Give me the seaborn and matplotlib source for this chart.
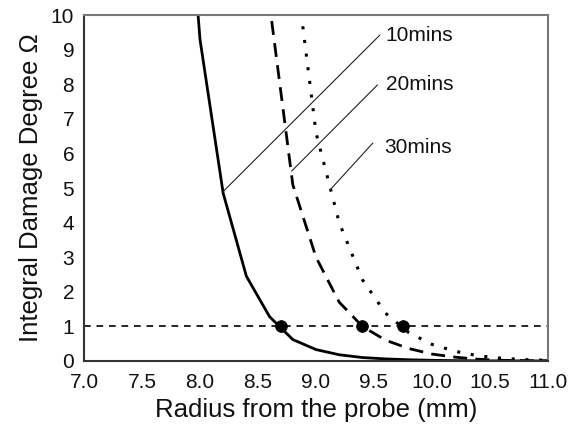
import numpy as np
import pandas as pd
import matplotlib
matplotlib.use("Agg")
import matplotlib.pyplot as plt
import seaborn as sns
from matplotlib.ticker import MultipleLocator, FormatStrFormatter

# ---- data ----
r10 = [7.8, 8.0, 8.2, 8.4, 8.6, 8.8, 9.0, 9.2, 9.4, 9.6, 9.8, 10.0, 10.2, 10.4, 10.6, 10.8, 11.0]
d10 = [18.0, 9.3, 4.85, 2.45, 1.28, 0.62, 0.33, 0.18, 0.10, 0.06, 0.035, 0.02, 0.01, 0.005, 0.003, 0.002, 0.001]

r20 = [8.4, 8.6, 8.8, 9.0, 9.2, 9.4, 9.6, 9.8, 10.0, 10.2, 10.4, 10.6, 10.8, 11.0]
d20 = [20.0, 10.3, 5.1, 3.0, 1.7, 1.0, 0.6, 0.36, 0.2, 0.11, 0.05, 0.02, 0.01, 0.005]

r30 = [8.8, 9.0, 9.2, 9.4, 9.6, 9.8, 10.0, 10.2, 10.4, 10.6, 10.8, 11.0]
d30 = [12.0, 6.6, 4.0, 2.35, 1.38, 0.82, 0.48, 0.28, 0.15, 0.08, 0.04, 0.02]

threshold_r = [8.7, 9.4, 9.75]
threshold_d = [1.0, 1.0, 1.0]

labels = ["10mins", "20mins", "30mins"]
label_pos = [(9.60, 9.42), (9.60, 7.98), (9.59, 6.18)]
leader_start = [(8.20, 4.90), (8.79, 5.49), (9.12, 4.94)]
leader_end = [(9.55, 9.42), (9.53, 7.98), (9.49, 6.30)]

sns.set_style("white")
plt.rcParams["font.family"] = ["Liberation Sans", "DejaVu Sans"]

fig = plt.figure(figsize=(5.79, 4.30), dpi=100)
ax = fig.add_axes([0.145, 0.1605, 0.8015, 0.8045])

df10 = pd.DataFrame({"r": r10, "d": d10})
df20 = pd.DataFrame({"r": r20, "d": d20})
df30 = pd.DataFrame({"r": r30, "d": d30})

sns.lineplot(data=df10, x="r", y="d", ax=ax, color="black", lw=2.0,
             estimator=None, sort=False)
l20 = sns.lineplot(data=df20, x="r", y="d", ax=ax, color="black", lw=2.0,
                   estimator=None, sort=False).lines[-1]
l20.set_dashes([5, 3])
l30 = sns.lineplot(data=df30, x="r", y="d", ax=ax, color="black", lw=2.2,
                   estimator=None, sort=False).lines[-1]
l30.set_dashes([1, 3.5])

ax.axhline(1.0, color="black", lw=1.2, dashes=(4, 3.5))

sns.scatterplot(x=threshold_r, y=threshold_d, ax=ax, color="black", s=70,
                edgecolor="black", zorder=5)

for lab, (tx, ty), (sx, sy), (ex, ey) in zip(labels, label_pos, leader_start, leader_end):
    ax.plot([sx, ex], [sy, ey], color="#222222", lw=0.8)
    ax.text(tx, ty, lab, fontsize=15, va="center", ha="left", color="#111111")

ax.set_xlim(7.0, 11.0)
ax.set_ylim(0, 10)
ax.xaxis.set_major_locator(MultipleLocator(0.5))
ax.xaxis.set_minor_locator(MultipleLocator(0.25))
ax.xaxis.set_major_formatter(FormatStrFormatter("%.1f"))
ax.yaxis.set_major_locator(MultipleLocator(1))

ax.tick_params(axis="x", which="both", direction="in", length=5, width=1.2,
               labelsize=15, colors="#111111", pad=9)
ax.tick_params(axis="y", which="major", direction="out", length=5, width=1.2,
               labelsize=15, colors="#111111", pad=2)
ax.tick_params(axis="x", which="minor", direction="in", length=5, width=1.2)

for side in ["left", "bottom"]:
    ax.spines[side].set_color("#333333")
    ax.spines[side].set_linewidth(1.5)
for side in ["top", "right"]:
    ax.spines[side].set_color("#777777")
    ax.spines[side].set_linewidth(1.5)

ax.set_xlabel("Radius from the probe (mm)", fontsize=18.5, color="#111111", labelpad=4)
ax.set_ylabel("Integral Damage Degree \u03a9", fontsize=18.5, color="#111111", labelpad=6)

fig.savefig("out.png", dpi=100)
